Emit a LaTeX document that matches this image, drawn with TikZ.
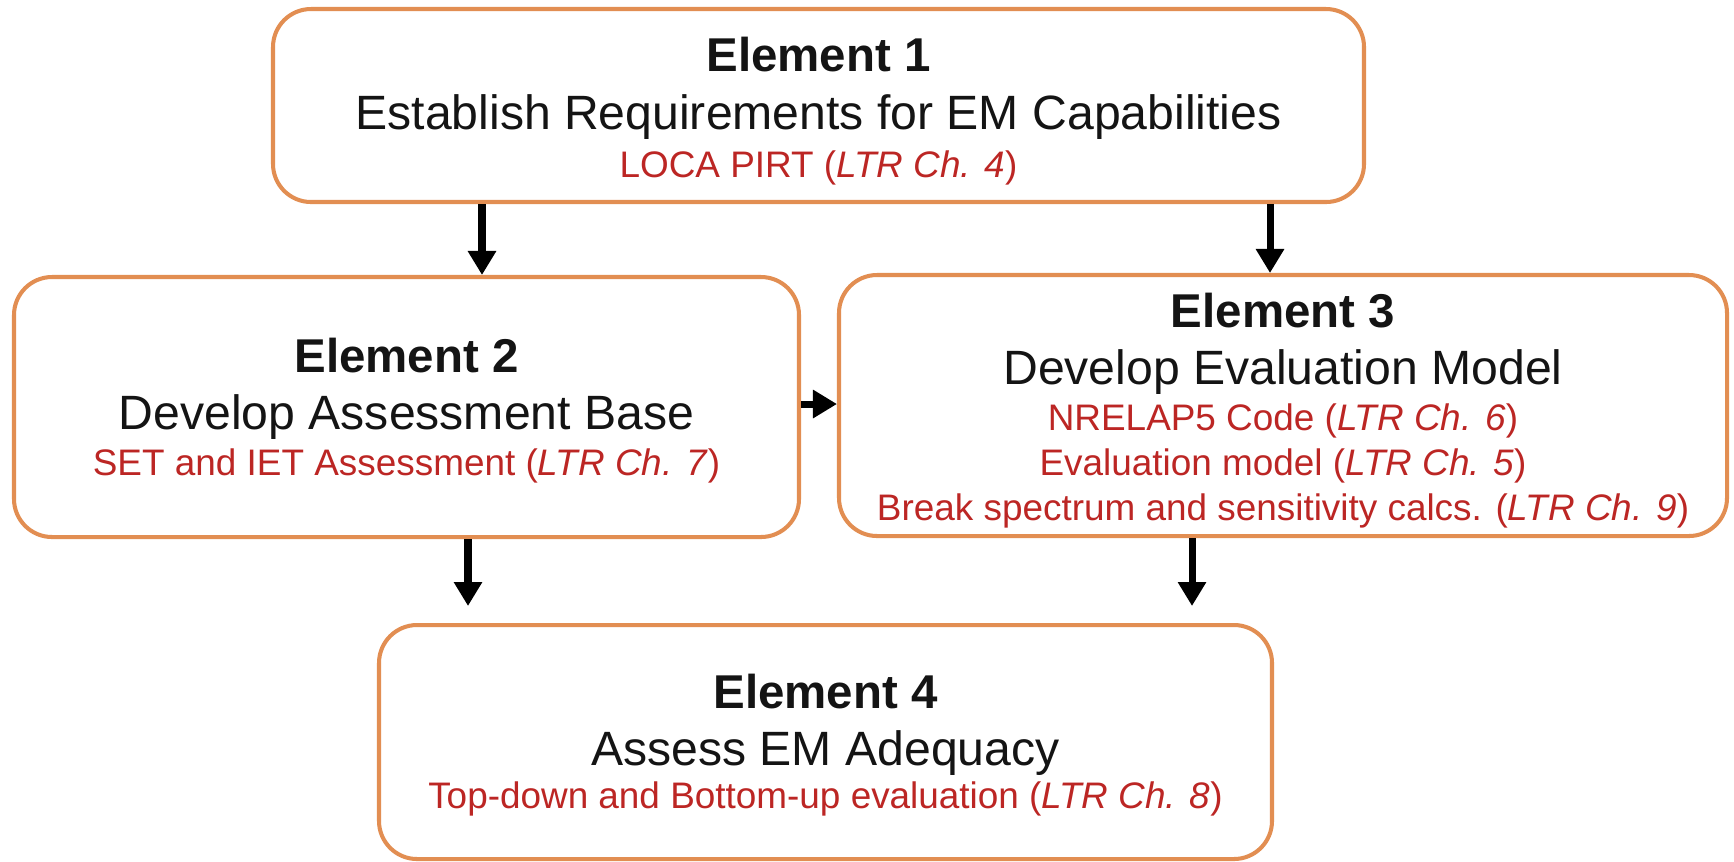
\documentclass[tikz,border=0pt]{standalone}
\usepackage{fontspec}
\setmainfont{Liberation Sans}
\usetikzlibrary{arrows.meta}
\definecolor{boxorange}{RGB}{226,142,82}
\definecolor{reftext}{RGB}{188,38,36}
\definecolor{maintext}{RGB}{20,20,20}
\tikzset{
  box/.style={draw=boxorange, line width=1.15pt, rounded corners=3.8mm, fill=white, inner sep=0pt},
  ttl/.style={anchor=base, inner sep=0pt, text=maintext, font=\fontsize{13.5}{16}\selectfont\bfseries},
  sub/.style={anchor=base, inner sep=0pt, text=maintext, font=\fontsize{13.7}{16}\selectfont},
  ref/.style={anchor=base, inner sep=0pt, text=reftext, font=\fontsize{10.5}{12}\selectfont},
  arr/.style={draw=black, line width=2pt, -{Triangle[length=2.4mm, width=2.7mm]}}
}
\begin{document}
\begin{tikzpicture}[x=0.1mm, y=-0.1mm]
\useasboundingbox (0,0) rectangle (1734,861);
% boxes
\node[box, minimum width=109.1mm, minimum height=19.3mm] (b1) at (818.5,105.5) {};
\node[box, minimum width=78.5mm, minimum height=26.0mm] (b2) at (406.5,407) {};
\node[box, minimum width=88.8mm, minimum height=26.1mm] (b3) at (1283,405.5) {};
\node[box, minimum width=89.3mm, minimum height=23.4mm] (b4) at (825.5,742) {};
% texts box 1
\node[ttl] (t1a) at (818.5,71) {Element 1};
\node[sub] (t1b) at (818.5,129) {Establish Requirements for EM Capabilities};
\node[ref] (t1c) at (818.5,177) {LOCA PIRT (\textit{LTR Ch. 4})};
% texts box 2
\node[ttl] (t2a) at (406.5,372) {Element 2};
\node[sub] (t2b) at (406.5,429) {Develop Assessment Base};
\node[ref] (t2c) at (406.5,475) {SET and IET Assessment (\textit{LTR Ch. 7})};
% texts box 3
\node[ttl] (t3a) at (1283,327) {Element 3};
\node[sub] (t3b) at (1283,384) {Develop Evaluation Model};
\node[ref] (t3c) at (1283,430) {NRELAP5 Code (\textit{LTR Ch. 6})};
\node[ref] (t3d) at (1283,475) {Evaluation model (\textit{LTR Ch. 5})};
\node[ref] (t3e) at (1283,520) {Break spectrum and sensitivity calcs. (\textit{LTR Ch. 9})};
% texts box 4
\node[ttl] (t4a) at (825.5,708) {Element 4};
\node[sub] (t4b) at (825.5,765) {Assess EM Adequacy};
\node[ref] (t4c) at (825.5,808) {Top-down and Bottom-up evaluation (\textit{LTR Ch. 8})};
% arrow positions
\coordinate (x12) at (482,0);
\coordinate (x13) at (1270,0);
\coordinate (x24) at (468,0);
\coordinate (x34) at (1192,0);
\coordinate (y23) at (0,404);
% arrows
\draw[arr] (b1.south -| x12) -- (b2.north -| x12);
\draw[arr] (b1.south -| x13) -- (b3.north -| x13);
\draw[arr] (b2.east |- y23) -- (b3.west |- y23);
\draw[arr, shorten >=1.7mm] (b2.south -| x24) -- (b4.north -| x24);
\draw[arr, shorten >=1.7mm] (b3.south -| x34) -- (b4.north -| x34);
\end{tikzpicture}
\end{document}
